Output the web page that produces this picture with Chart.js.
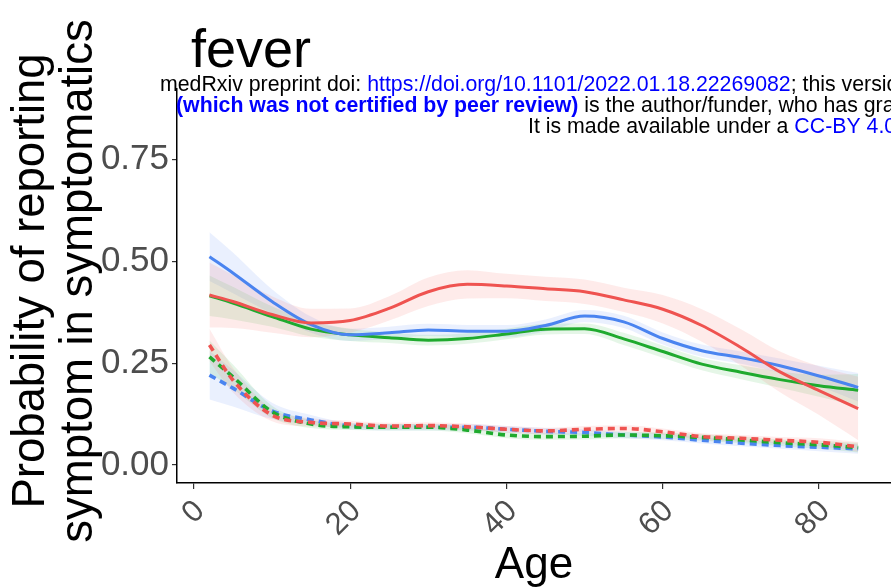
<!DOCTYPE html>
<html><head><meta charset="utf-8">
<script src="https://cdn.jsdelivr.net/npm/chart.js@4.4.1/dist/chart.umd.min.js"></script>
<style>html,body{margin:0;padding:0;background:#fff;overflow:hidden}canvas{display:block}</style>
</head><body>
<canvas id="c" width="891" height="588"></canvas>
<script>
// ---- data ----
const ages = [2, 5, 10, 15, 20, 25, 30, 35, 40, 45, 50, 55, 60, 65, 70, 75, 80, 85];
const redSolid   = [.418,.402,.370,.349,.355,.385,.426,.444,.440,.433,.426,.406,.383,.343,.289,.229,.183,.139];
const greenSolid = [.416,.398,.365,.334,.320,.313,.307,.311,.322,.334,.335,.310,.279,.248,.228,.210,.195,.184];
const blueSolid  = [.512,.472,.402,.345,.320,.325,.332,.329,.329,.343,.366,.352,.311,.281,.264,.244,.219,.191];
const redDash    = [.295,.209,.123,.105,.101,.096,.097,.094,.088,.084,.088,.090,.082,.070,.066,.061,.056,.045];
const greenDash  = [.266,.217,.131,.101,.094,.093,.093,.086,.074,.070,.071,.074,.072,.068,.062,.055,.050,.043];
const blueDash   = [.221,.189,.133,.111,.096,.093,.093,.093,.088,.083,.080,.074,.069,.061,.054,.048,.044,.040];
// ribbon half-widths (confidence bands)
const redSolidHW   = [.080,.065,.045,.035,.030,.030,.035,.035,.030,.030,.030,.030,.035,.040,.045,.050,.060,.078];
const greenSolidHW = [.050,.040,.025,.018,.015,.013,.013,.013,.013,.013,.013,.015,.015,.015,.017,.020,.027,.040];
const blueSolidHW  = [.060,.050,.030,.020,.015,.015,.015,.015,.015,.015,.015,.015,.015,.015,.015,.018,.025,.035];
const redDashHW    = [.040,.030,.015,.010,.008,.008,.008,.008,.008,.008,.008,.008,.008,.008,.008,.008,.010,.012];
const greenDashHW  = [.040,.030,.015,.010,.008,.008,.008,.008,.008,.008,.008,.008,.008,.008,.008,.008,.010,.012];
const blueDashHW   = [.060,.045,.020,.012,.008,.008,.008,.008,.008,.008,.008,.008,.008,.008,.008,.008,.010,.012];
const xTicks = [0, 20, 40, 60, 80];
const yTicks = [0, 0.25, 0.5, 0.75];
const titleText = 'fever';
const xTitle = 'Age';
const yTitle = ['Probability of reporting', 'symptom in symptomatics'];

const RED = '#EF5350', GREEN = '#1FAA2E', BLUE = '#4A84F0';
const FONT = "'Liberation Sans', Arial, Helvetica, sans-serif";

function pts(vals, hw, sign) {
  return ages.map((a, i) => ({x: a, y: vals[i] + (hw ? sign * hw[i] : 0)}));
}
function ribbon(vals, hw, fillColor) {
  return [
    {data: pts(vals, hw, 1), borderWidth: 0, pointRadius: 0, fill: false, order: 2, cubicInterpolationMode: 'monotone'},
    {data: pts(vals, hw, -1), borderWidth: 0, pointRadius: 0, fill: '-1', backgroundColor: fillColor, order: 2, cubicInterpolationMode: 'monotone'}
  ];
}
function line(vals, color, dashed) {
  return {data: pts(vals), borderColor: color, borderWidth: dashed ? 3.6 : 3, borderDash: dashed ? [7, 5] : [],
          pointRadius: 0, fill: false, order: 0, cubicInterpolationMode: 'monotone', borderCapStyle: 'butt'};
}

const datasets = [
  ...ribbon(redSolid, redSolidHW, 'rgba(248,100,95,0.13)'),
  ...ribbon(greenSolid, greenSolidHW, 'rgba(40,180,60,0.12)'),
  ...ribbon(blueSolid, blueSolidHW, 'rgba(80,130,245,0.12)'),
  ...ribbon(redDash, redDashHW, 'rgba(248,100,95,0.12)'),
  ...ribbon(greenDash, greenDashHW, 'rgba(40,180,60,0.12)'),
  ...ribbon(blueDash, blueDashHW, 'rgba(80,130,245,0.12)'),
  line(redSolid, RED, false),
  line(blueSolid, BLUE, false),
  line(greenSolid, GREEN, false),
  line(redDash, RED, true),
  line(greenDash, GREEN, true),
  line(blueDash, BLUE, true)
];

function drawSegs(ctx, x, y, segs, size) {
  let cx = x;
  segs.forEach(s => {
    ctx.font = (s.bold ? 'bold ' : '') + size + 'px ' + FONT;
    ctx.fillStyle = s.color;
    ctx.fillText(s.t, cx, y);
    cx += ctx.measureText(s.t).width;
  });
}

const overlay = {
  id: 'overlay',
  afterDraw(chart) {
    const ctx = chart.ctx;
    ctx.save();
    ctx.textBaseline = 'alphabetic';
    ctx.textAlign = 'left';
    // panel title
    ctx.font = '54px ' + FONT;
    ctx.fillStyle = '#000';
    ctx.fillText(titleText, 191, 66.5);
    // y axis title (two lines, rotated)
    ctx.font = '45.5px ' + FONT;
    ctx.textAlign = 'center';
    const cy = 281;
    [[44, yTitle[0]], [92, yTitle[1]]].forEach(([bx, t]) => {
      ctx.save();
      ctx.translate(bx, cy);
      ctx.rotate(-Math.PI / 2);
      ctx.fillText(t, 0, 0);
      ctx.restore();
    });
    // medRxiv watermark
    ctx.textAlign = 'left';
    const fs = 21.3;
    drawSegs(ctx, 160, 91, [
      {t: 'medRxiv preprint doi: ', color: '#000'},
      {t: 'https://doi.org/10.1101/2022.01.18.22269082', color: '#0000FF'},
      {t: '; this version posted January 19, 2022. The copyright holder for this preprint', color: '#000'}
    ], fs);
    drawSegs(ctx, 176, 112, [
      {t: '(which was not certified by peer review)', color: '#0000FF', bold: true},
      {t: ' is the author/funder, who has granted medRxiv a license to display the preprint in perpetuity.', color: '#000'}
    ], fs);
    drawSegs(ctx, 528, 133, [
      {t: 'It is made available under a ', color: '#000'},
      {t: 'CC-BY 4.0 International license', color: '#0000FF'},
      {t: ' .', color: '#000'}
    ], fs);
    ctx.restore();
  }
};

new Chart(document.getElementById('c'), {
  type: 'line',
  data: {datasets},
  plugins: [overlay],
  options: {
    responsive: false,
    animation: false,
    layout: {padding: {top: 89, left: 0, right: 0, bottom: 0}},
    plugins: {legend: {display: false}, tooltip: {enabled: false}, title: {display: false}},
    scales: {
      x: {
        type: 'linear', min: -2.15, max: 89.2,
        afterBuildTicks: s => { s.ticks = xTicks.map(v => ({value: v})); },
        afterFit: s => { s.height = 105; },
        ticks: {autoSkip: false, maxRotation: 45, minRotation: 45, color: '#4D4D4D',
                font: {family: FONT, size: 31}, padding: 4, labelOffset: 6, callback: v => String(v)},
        grid: {drawOnChartArea: false, drawTicks: true, tickLength: 6, color: '#333', lineWidth: 1.2},
        border: {display: true, color: '#000', width: 1.5},
        title: {display: true, text: xTitle, color: '#000', font: {family: FONT, size: 44}, padding: {top: 0, bottom: -4}}
      },
      y: {
        type: 'linear', min: -0.044, max: 0.924,
        afterBuildTicks: s => { s.ticks = yTicks.map(v => ({value: v})); },
        afterFit: s => { s.width = 177; },
        ticks: {color: '#4D4D4D', font: {family: FONT, size: 35}, padding: 3, callback: v => v.toFixed(2)},
        grid: {drawOnChartArea: false, drawTicks: true, tickLength: 5, color: '#333', lineWidth: 1.2},
        border: {display: true, color: '#000', width: 1.5}
      }
    }
  }
});
</script>
</body></html>
